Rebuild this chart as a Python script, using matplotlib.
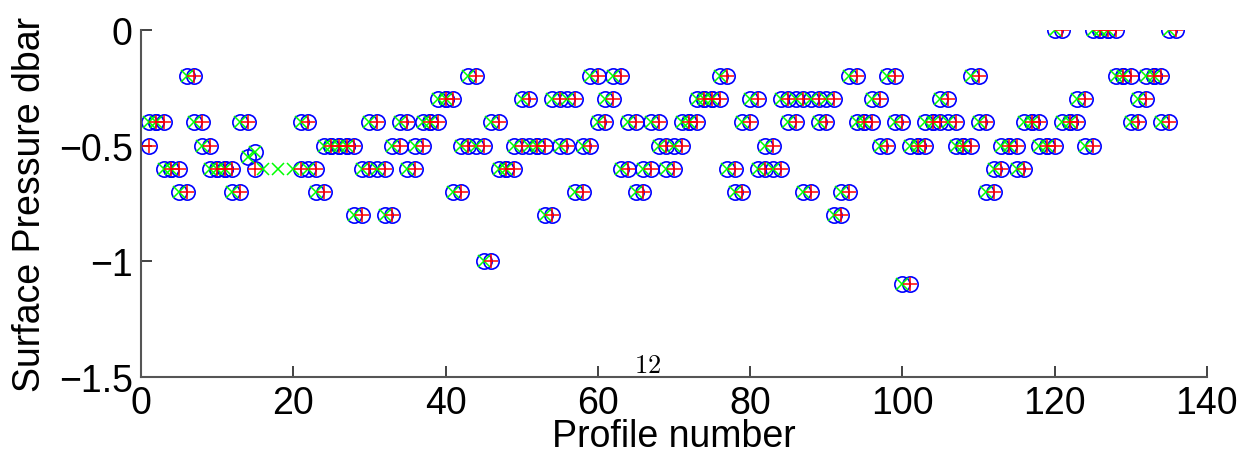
import numpy as np
import matplotlib
matplotlib.use("Agg")
import matplotlib.pyplot as plt

nan = np.nan

# ── data ──────────────────────────────────────────────────────────────────────
# surface pressure per profile (profiles 1..136), profiles 16-20 missing
surf_pres = [
    -0.5, -0.4, -0.4, -0.6, -0.6, -0.7, -0.2, -0.4, -0.5, -0.6,   # 1-10
    -0.6, -0.6, -0.7, -0.4, -0.6,  nan,  nan,  nan,  nan,  nan,   # 11-20
    -0.6, -0.4, -0.6, -0.7, -0.5, -0.5, -0.5, -0.5, -0.8, -0.6,   # 21-30
    -0.4, -0.6, -0.8, -0.5, -0.4, -0.6, -0.5, -0.4, -0.4, -0.3,   # 31-40
    -0.3, -0.7, -0.5, -0.2, -0.5, -1.0, -0.4, -0.6, -0.6, -0.5,   # 41-50
    -0.3, -0.5, -0.5, -0.8, -0.3, -0.5, -0.3, -0.7, -0.5, -0.2,   # 51-60
    -0.4, -0.3, -0.2, -0.6, -0.4, -0.7, -0.6, -0.4, -0.5, -0.6,   # 61-70
    -0.5, -0.4, -0.4, -0.3, -0.3, -0.3, -0.2, -0.6, -0.7, -0.4,   # 71-80
    -0.3, -0.6, -0.5, -0.6, -0.3, -0.4, -0.3, -0.7, -0.3, -0.4,   # 81-90
    -0.3, -0.8, -0.7, -0.2, -0.4, -0.4, -0.3, -0.5, -0.2, -0.4,   # 91-100
    -1.1, -0.5, -0.5, -0.4, -0.4, -0.3, -0.4, -0.5, -0.5, -0.2,   # 101-110
    -0.4, -0.7, -0.6, -0.5, -0.5, -0.6, -0.4, -0.4, -0.5, -0.5,   # 111-120
     0.0, -0.4, -0.4, -0.3, -0.5,  0.0,  0.0,  0.0, -0.2, -0.2,   # 121-130
    -0.4, -0.3, -0.2, -0.2, -0.4,  0.0,                           # 131-136
]
profile = list(range(1, len(surf_pres) + 1))

# pressure of the following profile, plotted at the current profile (1..135)
next_pres = [
    -0.4, -0.4, -0.6, -0.6, -0.7, -0.2, -0.4, -0.5, -0.6, -0.6,   # 1-10
    -0.6, -0.7, -0.4, -0.55, -0.53, nan, nan,  nan,  nan,  nan,   # 11-20
    -0.4, -0.6, -0.7, -0.5, -0.5, -0.5, -0.5, -0.8, -0.6, -0.4,   # 21-30
    -0.6, -0.8, -0.5, -0.4, -0.6, -0.5, -0.4, -0.4, -0.3, -0.3,   # 31-40
    -0.7, -0.5, -0.2, -0.5, -1.0, -0.4, -0.6, -0.6, -0.5, -0.3,   # 41-50
    -0.5, -0.5, -0.8, -0.3, -0.5, -0.3, -0.7, -0.5, -0.2, -0.4,   # 51-60
    -0.3, -0.2, -0.6, -0.4, -0.7, -0.6, -0.4, -0.5, -0.6, -0.5,   # 61-70
    -0.4, -0.4, -0.3, -0.3, -0.3, -0.2, -0.6, -0.7, -0.4, -0.3,   # 71-80
    -0.6, -0.5, -0.6, -0.3, -0.4, -0.3, -0.7, -0.3, -0.4, -0.3,   # 81-90
    -0.8, -0.7, -0.2, -0.4, -0.4, -0.3, -0.5, -0.2, -0.4, -1.1,   # 91-100
    -0.5, -0.5, -0.4, -0.4, -0.3, -0.4, -0.5, -0.5, -0.2, -0.4,   # 101-110
    -0.7, -0.6, -0.5, -0.5, -0.6, -0.4, -0.4, -0.5, -0.5,  0.0,   # 111-120
    -0.4, -0.4, -0.3, -0.5,  0.0,  0.0,  0.0, -0.2, -0.2, -0.4,   # 121-130
    -0.3, -0.2, -0.2, -0.4,  0.0,                                 # 131-135
]
next_prof = list(range(1, len(next_pres) + 1))

# stray green crosses in the gap (no circle)
gap_prof = [16, 18, 20]
gap_pres = [-0.6, -0.6, -0.6]

x_ticks = [0, 20, 40, 60, 80, 100, 120, 140]
y_ticks = [-1.5, -1.0, -0.5, 0.0]
y_tick_labels = ["\u22121.5", "\u22121", "\u22120.5", "0"]

# ── plot ──────────────────────────────────────────────────────────────────────
plt.rcParams["font.family"] = ["Liberation Sans", "DejaVu Sans"]
plt.rcParams["mathtext.fontset"] = "cm"

fig = plt.figure(figsize=(12.52, 4.64), dpi=100)
ax = fig.add_axes([0.1126, 0.1864, 0.8514, 0.7468])

ms = 11
ax.plot(profile, surf_pres, "o", color="blue", mfc="none", ms=ms, mew=1.2)
ax.plot(next_prof, next_pres, "o", color="blue", mfc="none", ms=ms, mew=1.2)
ax.plot(next_prof, next_pres, "x", color="#00ff00", ms=ms * 0.85, mew=1.1)
ax.plot(gap_prof, gap_pres, "x", color="#00ff00", ms=ms * 0.85, mew=1.1)
ax.plot(profile, surf_pres, "+", color="red", ms=ms * 0.95, mew=1.1)

ax.text(66.5, -1.5, "$12$", ha="center", va="bottom", fontsize=19)

ax.set_xlim(0, 140)
ax.set_ylim(-1.5, 0)
ax.set_xticks(x_ticks)
ax.set_yticks(y_ticks)
ax.set_yticklabels(y_tick_labels)

for side in ("top", "right"):
    ax.spines[side].set_visible(False)
for side in ("left", "bottom"):
    ax.spines[side].set_color("#555555")
    ax.spines[side].set_linewidth(1.5)

ax.tick_params(direction="in", length=8, width=1.2, labelsize=27, pad=6,
               colors="#222222", labelcolor="black")
ax.set_xlabel("Profile number", fontsize=27, labelpad=-2)
ax.set_ylabel("Surface Pressure dbar", fontsize=27, labelpad=8)

fig.savefig("out.png", dpi=100)
